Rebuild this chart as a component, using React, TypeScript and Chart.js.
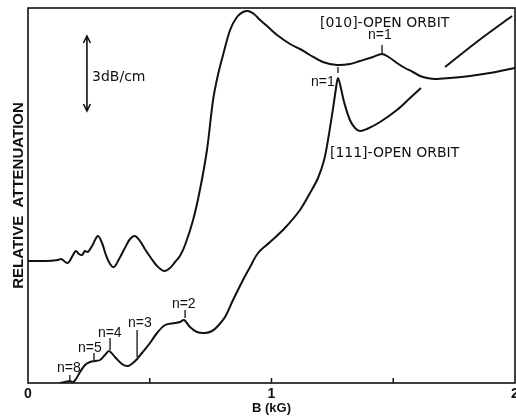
import React, { useEffect, useRef } from "react";
import { Chart, registerables } from "chart.js";

Chart.register(...registerables);

// Magnetic field B (kG) and relative attenuation (dB/cm)
const upperB = [0, 0.07, 0.123, 0.136, 0.148, 0.164, 0.185, 0.197, 0.209, 0.222, 0.234, 0.246, 0.263, 0.287, 0.304, 0.32, 0.337, 0.353, 0.374, 0.398, 0.419, 0.439, 0.46, 0.48, 0.505, 0.53, 0.559, 0.583, 0.604, 0.624, 0.645, 0.678, 0.706, 0.735, 0.76, 0.78, 0.801, 0.83, 0.858, 0.883, 0.904, 0.928, 0.953, 0.986, 1.023, 1.076, 1.117, 1.158, 1.211, 1.269, 1.322, 1.363, 1.417, 1.454, 1.487, 1.515, 1.548, 1.581, 1.61, 1.639, 1.671, 1.733, 1.815, 1.897, 2.0];
const upperAtt = [4.88, 4.88, 4.92, 4.96, 4.88, 4.8, 5.12, 5.28, 5.16, 5.12, 5.28, 5.24, 5.48, 5.88, 5.6, 5.12, 4.76, 4.64, 4.96, 5.4, 5.76, 5.88, 5.68, 5.36, 5.0, 4.68, 4.48, 4.6, 4.84, 5.08, 5.52, 6.52, 7.72, 9.32, 11.32, 12.32, 13.12, 14.12, 14.64, 14.84, 14.88, 14.76, 14.52, 14.24, 13.92, 13.56, 13.36, 13.12, 12.84, 12.72, 12.76, 12.88, 13.04, 13.16, 13.0, 12.8, 12.6, 12.44, 12.28, 12.2, 12.16, 12.2, 12.28, 12.4, 12.6];

const upperTailB = [1.713, 1.848, 1.988];
const upperTailAtt = [12.64, 13.68, 14.68];

const lowerB = [0.131, 0.152, 0.172, 0.185, 0.197, 0.214, 0.234, 0.255, 0.275, 0.296, 0.316, 0.333, 0.357, 0.386, 0.411, 0.431, 0.448, 0.468, 0.501, 0.53, 0.563, 0.604, 0.624, 0.641, 0.665, 0.694, 0.727, 0.756, 0.78, 0.809, 0.842, 0.883, 0.912, 0.945, 0.994, 1.055, 1.117, 1.158, 1.191, 1.216, 1.232, 1.253, 1.265, 1.273, 1.285, 1.298, 1.322, 1.343, 1.363, 1.392, 1.446, 1.515, 1.569, 1.614];
const lowerAtt = [0, 0.04, 0.08, 0.04, 0.16, 0.44, 0.72, 0.84, 0.88, 0.92, 1.12, 1.28, 1.04, 0.76, 0.68, 0.8, 0.96, 1.2, 1.6, 2.0, 2.32, 2.4, 2.44, 2.52, 2.24, 2.04, 2.0, 2.08, 2.28, 2.64, 3.32, 4.12, 4.64, 5.2, 5.64, 6.2, 6.92, 7.6, 8.2, 8.92, 9.72, 11.0, 11.8, 12.2, 11.8, 11.24, 10.52, 10.2, 10.08, 10.16, 10.44, 10.92, 11.4, 11.8];

const xTicks = [0, 0.5, 1, 1.5, 2];
const xTickLabels = ["0", "", "1", "", "2"];

const orbitLabels = ["[010]-OPEN ORBIT", "[111]-OPEN ORBIT"];
const orbitLabelB = [1.199, 1.24];
const orbitLabelAtt = [14.4, 9.2];

const peakLabels = ["n=1", "n=1", "n=2", "n=3", "n=4", "n=5", "n=8"];
const peakLabelB = [1.396, 1.162, 0.591, 0.411, 0.287, 0.205, 0.119];
const peakLabelAtt = [13.92, 12.04, 3.16, 2.4, 2.0, 1.4, 0.6];
const peakMarkB = [1.454, 1.273, 0.645, 0.448, 0.337, 0.271, 0.172];
const peakMarkTop = [13.52, 12.64, 2.92, 2.12, 1.8, 1.2, 0.32];
const peakMarkBottom = [13.2, 12.4, 2.6, 1.04, 1.32, 0.92, 0.12];

const scaleBarLabel = "3dB/cm";
const scaleBarB = 0.242;
const scaleBarCenter = 12.38;
const scaleBarLength = 3;
const scaleBarLabelB = 0.263;
const scaleBarLabelAtt = 12.24;

const toPoints = (xs: number[], ys: number[]) => xs.map((x, i) => ({ x, y: ys[i] }));

const INK = "#111";

const overlayPlugin = {
  id: "overlay",
  afterDraw(chart: any) {
    const { ctx, chartArea, scales } = chart;
    const xs = scales.x;
    const ys = scales.y;
    ctx.save();
    ctx.strokeStyle = INK;
    ctx.fillStyle = INK;
    // frame
    ctx.lineWidth = 1.6;
    ctx.strokeRect(chartArea.left, chartArea.top, chartArea.right - chartArea.left, chartArea.bottom - chartArea.top);
    // inward ticks and tick labels
    ctx.lineWidth = 1.5;
    ctx.font = "bold 14px 'Liberation Sans', Arial, sans-serif";
    ctx.textAlign = "center";
    ctx.textBaseline = "middle";
    xTicks.forEach((v, i) => {
      const px = xs.getPixelForValue(v);
      if (v > 0 && v < 2) {
        ctx.beginPath();
        ctx.moveTo(px, chartArea.bottom);
        ctx.lineTo(px, chartArea.bottom - 5);
        ctx.stroke();
      }
      if (xTickLabels[i]) ctx.fillText(xTickLabels[i], px, chartArea.bottom + 11);
    });
    // scale bar (double arrow)
    const bx = xs.getPixelForValue(scaleBarB);
    const y1 = ys.getPixelForValue(scaleBarCenter + scaleBarLength / 2);
    const y2 = ys.getPixelForValue(scaleBarCenter - scaleBarLength / 2);
    ctx.lineWidth = 1.6;
    ctx.beginPath();
    ctx.moveTo(bx, y1);
    ctx.lineTo(bx, y2);
    ctx.moveTo(bx - 3.5, y1 + 7);
    ctx.lineTo(bx, y1);
    ctx.lineTo(bx + 3.5, y1 + 7);
    ctx.moveTo(bx - 3.5, y2 - 7);
    ctx.lineTo(bx, y2);
    ctx.lineTo(bx + 3.5, y2 - 7);
    ctx.stroke();
    ctx.textAlign = "left";
    ctx.font = "14px 'DejaVu Sans', sans-serif";
    ctx.fillText(scaleBarLabel, xs.getPixelForValue(scaleBarLabelB), ys.getPixelForValue(scaleBarLabelAtt));
    // orbit labels
    orbitLabels.forEach((t, i) => {
      ctx.fillText(t, xs.getPixelForValue(orbitLabelB[i]), ys.getPixelForValue(orbitLabelAtt[i]));
    });
    // peak labels and marks
    ctx.font = "14px 'Liberation Sans', Arial, sans-serif";
    ctx.lineWidth = 1.3;
    peakLabels.forEach((t, i) => {
      ctx.fillText(t, xs.getPixelForValue(peakLabelB[i]), ys.getPixelForValue(peakLabelAtt[i]));
      const mx = xs.getPixelForValue(peakMarkB[i]);
      ctx.beginPath();
      ctx.moveTo(mx, ys.getPixelForValue(peakMarkTop[i]));
      ctx.lineTo(mx, ys.getPixelForValue(peakMarkBottom[i]));
      ctx.stroke();
    });
    ctx.restore();
  },
};

export default function App() {
  const ref = useRef<HTMLCanvasElement | null>(null);
  useEffect(() => {
    if (!ref.current) return;
    const lineStyle = {
      borderColor: INK,
      borderWidth: 2,
      pointRadius: 0,
      fill: false,
      tension: 0.35,
    };
    const chart = new Chart(ref.current, {
      type: "line",
      data: {
        datasets: [
          { label: "[010]-open orbit", data: toPoints(upperB, upperAtt), ...lineStyle },
          { label: "[010]-open orbit (offset)", data: toPoints(upperTailB, upperTailAtt), ...lineStyle },
          { label: "[111]-open orbit", data: toPoints(lowerB, lowerAtt), ...lineStyle },
        ],
      },
      options: {
        responsive: false,
        animation: false,
        devicePixelRatio: 1,
        layout: { padding: { top: 8, right: 1, left: 0, bottom: 0 } },
        plugins: { legend: { display: false }, tooltip: { enabled: false } },
        scales: {
          x: {
            type: "linear",
            min: 0,
            max: 2,
            grid: { display: false },
            border: { display: false },
            ticks: { display: false },
            title: {
              display: true,
              text: "B (kG)",
              color: INK,
              font: { family: "'Liberation Sans', Arial, sans-serif", size: 13, weight: "bold" },
              padding: { top: 0, bottom: 4 },
            },
            afterFit: (s: any) => {
              s.height = 37;
              s.paddingLeft = 0;
              s.paddingRight = 0;
            },
          },
          y: {
            type: "linear",
            min: 0,
            max: 15,
            grid: { display: false },
            border: { display: false },
            ticks: { display: false },
            title: {
              display: true,
              text: "RELATIVE  ATTENUATION",
              color: INK,
              font: { family: "'Liberation Sans', Arial, sans-serif", size: 15, weight: "bold" },
              padding: { top: 10, bottom: 0 },
            },
            afterFit: (s: any) => {
              s.width = 28;
              s.paddingTop = 0;
              s.paddingBottom = 0;
            },
          },
        },
      } as any,
      plugins: [overlayPlugin],
    });
    return () => chart.destroy();
  }, []);
  return (
    <div style={{ position: "absolute", left: 0, top: 0, width: 516, height: 420, background: "#fff" }}>
      <canvas ref={ref} width={516} height={420} />
    </div>
  );
}
